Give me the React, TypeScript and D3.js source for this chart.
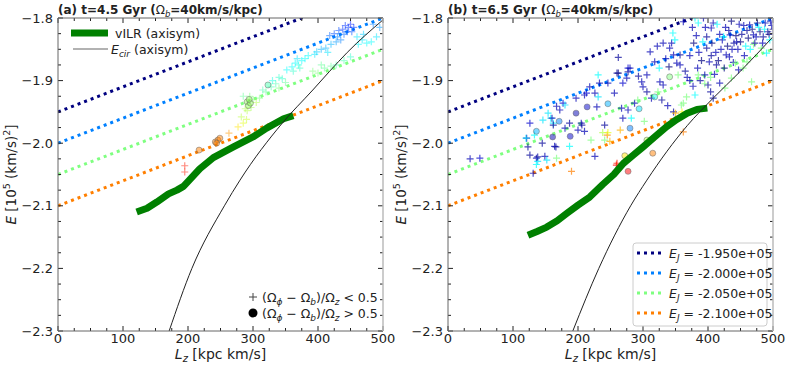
import React from 'react';
import * as d3 from 'd3';

// pattern speed (km/s/kpc); E and E_J in units of 1e5 (km/s)^2
const OMEGA_B = 40;
const LZ_TICKS = [0, 100, 200, 300, 400, 500];
const E_TICKS = [-1.8, -1.9, -2.0, -2.1, -2.2, -2.3];
const EJ_LEVELS = [-1.95, -2.0, -2.05, -2.1];
const EJ_LABELS = ['-1.950e+05', '-2.000e+05', '-2.050e+05', '-2.100e+05'];

// vILR (axisym) tracks [Lz, E]
const VILR_A = [
  [121, -2.11], [137, -2.104], [152, -2.094], [170, -2.081], [183, -2.075], [193, -2.069],
  [202, -2.059], [218, -2.041], [239, -2.023], [270, -2.006], [300, -1.99], [321, -1.976],
  [347, -1.961], [362, -1.956],
];
const VILR_B = [
  [123, -2.147], [137, -2.141], [152, -2.134], [168, -2.124], [183, -2.112], [200, -2.099],
  [218, -2.086], [238, -2.066], [255, -2.05], [270, -2.032], [285, -2.019], [300, -2.006],
  [318, -1.99], [336, -1.974], [352, -1.962], [368, -1.952], [383, -1.946], [399, -1.944],
];

// E_cir (axisym) [Lz, E]
const ECIR_A = [
  [171, -2.3], [206, -2.2], [256, -2.1], [280, -2.059], [345, -1.968], [392, -1.915],
  [418, -1.885], [445, -1.855], [500, -1.803],
];
const ECIR_B = [
  [192, -2.3], [232, -2.2], [281, -2.1], [306, -2.059], [368, -1.972], [408, -1.928],
  [449, -1.886], [500, -1.83],
];

// particles [Lz, E, colour E_J]
const PLUS_A = [
  [195, -2.036, -2.12], [195, -2.046, -2.12], [263, -1.984, -2.095], [277, -1.974, -2.08],
  [285, -1.968, -2.07], [290, -1.962, -2.065], [282, -1.958, -2.062], [288, -1.945, -2.06],
  [291, -1.948, -2.06], [297, -1.943, -2.058], [300, -1.93, -2.052], [305, -1.935, -2.06],
  [295, -1.925, -2.05], [310, -1.928, -2.05], [285, -1.925, -2.045], [315, -1.915, -2.04],
  [320, -1.918, -2.045], [328, -1.91, -2.04], [335, -1.905, -2.04], [340, -1.895, -2.035],
  [345, -1.897, -2.035], [330, -1.9, -2.03], [340, -1.912, -2.05], [350, -1.903, -2.045],
  [352, -1.883, -2.025], [360, -1.878, -2.025], [365, -1.872, -2.025], [370, -1.875, -2.03],
  [375, -1.868, -2.025], [380, -1.865, -2.025], [368, -1.865, -2.02], [385, -1.86, -2.025],
  [372, -1.88, -2.035], [362, -1.885, -2.035], [392, -1.885, -2.05], [400, -1.888, -2.05],
  [410, -1.88, -2.045], [420, -1.877, -2.045], [428, -1.875, -2.04], [405, -1.875, -2.045],
  [440, -1.868, -2.04], [450, -1.862, -2.035], [398, -1.854, -2.015], [405, -1.85, -2.01],
  [412, -1.848, -2.01], [420, -1.842, -2.01], [428, -1.838, -2.005], [435, -1.835, -2.0],
  [395, -1.858, -2.02], [415, -1.855, -2.02], [418, -1.828, -1.995], [425, -1.825, -1.99],
  [432, -1.82, -1.99], [438, -1.818, -1.985], [442, -1.812, -1.985], [447, -1.815, -1.985],
  [450, -1.81, -1.98], [455, -1.815, -1.985], [445, -1.822, -1.99], [452, -1.822, -1.99],
  [440, -1.826, -1.995], [430, -1.83, -2.0], [460, -1.83, -2.02], [468, -1.835, -2.02],
  [475, -1.84, -2.025], [482, -1.838, -2.025], [490, -1.83, -2.02], [470, -1.826, -2.015],
  [485, -1.81, -2.0], [495, -1.815, -2.005], [462, -1.842, -2.025],
];
const CIRC_A = [
  [217, -2.011, -2.1], [242, -1.998, -2.1], [246, -1.995, -2.1], [249, -1.992, -2.1],
  [244, -2.0, -2.1], [291, -1.934, -2.055], [293, -1.94, -2.055], [296, -1.936, -2.055],
  [294, -1.93, -2.055], [323, -1.907, -2.04],
];
const PLUS_B = [
  [34, -2.025, -1.96], [49, -2.024, -1.965], [121, -1.992, -1.96], [123, -2.006, -1.955],
  [126, -1.968, -1.965], [126, -2.019, -1.955], [131, -2.048, -1.96], [120, -1.992, -2.02],
  [133, -1.987, -2.025], [136, -2.024, -1.96], [138, -2.029, -2.02], [136, -2.034, -2.025],
  [138, -2.022, -1.955], [145, -2.0, -1.955], [146, -1.963, -2.02], [149, -2.021, -1.96],
  [152, -2.027, -2.02], [154, -1.952, -2.02], [158, -1.96, -2.025], [160, -1.96, -1.96],
  [162, -1.968, -2.02], [162, -1.971, -1.955], [164, -2.005, -1.96], [166, -2.006, -1.955],
  [167, -2.024, -2.05], [167, -1.941, -1.96], [172, -1.947, -1.96], [177, -1.936, -1.965],
  [180, -1.939, -2.02], [180, -1.976, -1.96], [187, -1.968, -1.955], [187, -2.005, -2.025],
  [190, -2.045, -2.1], [197, -1.928, -1.96], [200, -1.979, -1.96], [205, -1.968, -1.96],
  [206, -1.971, -1.955], [210, -1.981, -1.96], [210, -1.923, -1.96], [213, -1.92, -1.965],
  [218, -1.91, -1.96], [220, -1.995, -2.05], [226, -1.92, -1.96], [226, -2.021, -1.96],
  [229, -1.942, -1.96], [231, -1.891, -2.025], [231, -1.926, -2.02], [233, -1.904, -1.96],
  [238, -1.983, -2.06], [241, -1.971, -1.955], [241, -1.995, -2.05], [245, -1.987, -2.1],
  [246, -1.904, -1.96], [246, -1.983, -2.07], [249, -1.997, -2.09], [256, -1.92, -1.96],
  [259, -2.035, -2.125], [260, -1.888, -1.955], [260, -2.032, -2.12], [262, -1.863, -1.955],
  [262, -1.888, -1.95], [265, -1.979, -2.09], [267, -1.944, -1.96], [269, -1.904, -1.965],
  [269, -1.96, -1.96], [275, -1.896, -1.96], [277, -1.88, -1.965], [277, -1.947, -1.96],
  [277, -1.886, -1.955], [280, -1.88, -1.96], [282, -1.96, -2.025], [287, -1.936, -1.96],
  [292, -1.931, -2.05], [293, -1.893, -1.955], [298, -1.902, -1.96], [300, -1.91, -1.96],
  [302, -1.965, -2.05], [306, -1.891, -1.96], [306, -1.918, -1.955], [311, -1.854, -1.96],
  [313, -1.928, -1.96], [318, -1.87, -1.96], [322, -1.845, -1.96], [323, -1.918, -2.05],
  [325, -1.88, -2.025], [326, -1.902, -1.96], [329, -1.931, -1.955], [331, -1.84, -1.96],
  [331, -1.907, -1.96], [335, -1.865, -1.96], [338, -1.94, -1.96], [340, -1.878, -1.95],
  [341, -1.848, -1.96], [344, -1.84, -1.96], [346, -1.824, -2.025], [347, -1.859, -1.96],
  [347, -1.95, -1.955], [349, -1.835, -2.025], [350, -1.952, -2.09], [352, -1.872, -1.96],
  [354, -1.891, -2.05], [357, -1.859, -1.955], [357, -1.875, -1.96], [359, -1.939, -2.05],
  [360, -1.95, -2.075], [362, -1.806, -1.96], [362, -1.982, -2.1], [362, -1.936, -2.05],
  [365, -1.885, -1.955], [367, -1.926, -2.05], [368, -1.895, -1.96], [372, -1.9, -1.96],
  [372, -1.86, -1.96], [376, -1.815, -1.96], [377, -1.909, -1.96], [378, -1.84, -1.95],
  [380, -1.8, -2.025], [380, -1.923, -2.025], [382, -1.828, -1.96], [384, -1.88, -1.96],
  [385, -1.808, -2.025], [385, -1.891, -2.05], [386, -1.855, -1.96], [388, -1.9, -1.955],
  [390, -1.868, -1.95], [392, -1.838, -2.025], [393, -1.8, -1.96], [395, -1.891, -1.96],
  [395, -1.905, -2.05], [396, -1.815, -1.96], [398, -1.83, -1.955], [398, -1.848, -1.955],
  [400, -1.907, -1.955], [402, -1.87, -1.96], [404, -1.918, -1.955], [404, -1.895, -2.05],
  [405, -1.816, -1.96], [405, -1.86, -1.955], [406, -1.84, -1.95], [408, -1.808, -1.96],
  [408, -1.928, -1.955], [410, -1.89, -1.96], [412, -1.855, -1.96], [413, -1.875, -1.955],
  [414, -1.81, -2.025], [416, -1.868, -1.95], [418, -1.904, -1.96], [418, -1.826, -1.96],
  [420, -1.85, -1.96], [422, -1.835, -1.96], [424, -1.83, -2.025], [425, -1.88, -1.95],
  [426, -1.912, -2.05], [427, -1.815, -1.96], [428, -1.859, -1.96], [430, -1.845, -1.95],
  [432, -1.82, -1.955], [433, -1.862, -1.96], [434, -1.827, -1.96], [436, -1.896, -2.05],
  [436, -1.805, -1.95], [437, -1.85, -1.96], [439, -1.871, -1.96], [440, -1.84, -1.955],
  [442, -1.872, -2.05], [443, -1.828, -1.95], [444, -1.838, -1.96], [446, -1.85, -1.96],
  [447, -1.883, -1.96], [448, -1.81, -1.96], [450, -1.838, -1.95], [452, -1.826, -1.955],
  [454, -1.88, -2.05], [455, -1.812, -1.96], [456, -1.86, -1.96], [458, -1.845, -2.025],
  [460, -1.82, -1.955], [460, -1.87, -2.05], [462, -1.832, -1.95], [464, -1.811, -1.96],
  [465, -1.85, -2.025], [467, -1.902, -2.05], [468, -1.818, -1.95], [470, -1.827, -1.96],
  [470, -1.842, -2.05], [472, -1.84, -1.955], [474, -1.83, -1.96], [476, -1.808, -1.95],
  [478, -1.815, -2.025], [480, -1.822, -1.95], [482, -1.848, -2.05], [484, -1.84, -1.96],
  [485, -1.83, -1.955], [487, -1.818, -2.025], [488, -1.808, -1.96], [490, -1.856, -2.025],
  [492, -1.822, -1.955], [494, -1.826, -1.95], [495, -1.835, -2.025], [496, -1.805, -1.96],
  [498, -1.812, -1.96], [500, -1.818, -1.95],
];
const CIRC_B = [
  [136, -1.981, -2.01], [161, -1.99, -1.96], [171, -1.965, -2.0], [188, -1.989, -1.965],
  [197, -1.952, -1.96], [214, -1.942, -1.965], [246, -1.937, -2.01], [272, -2.02, -2.08],
  [277, -2.045, -2.125], [280, -1.976, -2.0], [294, -1.945, -2.02], [306, -1.995, -2.06],
  [315, -2.016, -2.1], [318, -1.926, -2.03], [341, -1.894, -2.05],
];

const PANELS = [
  { left: 58, tag: '(a) t=4.5 Gyr (', vilr: VILR_A, ecir: ECIR_A, plus: PLUS_A, circ: CIRC_A, alpha: 0.5 },
  { left: 448, tag: '(b) t=6.5 Gyr (', vilr: VILR_B, ecir: ECIR_B, plus: PLUS_B, circ: CIRC_B, alpha: 0.7 },
];

const TOP = 18;
const W = 325;
const H = 313;
const FONT = 'DejaVu Sans';

const clamp = (v) => Math.max(0, Math.min(1, v));
const jet = (t) => {
  const r = clamp(1.5 - Math.abs(4 * t - 3));
  const g = clamp(1.5 - Math.abs(4 * t - 2));
  const b = clamp(1.5 - Math.abs(4 * t - 1));
  return d3.rgb(r * 255, g * 255, b * 255).formatHex();
};
const ejColor = (ej) => jet((-1.95 - ej) / 0.2);
const minus = (v) => d3.format('.1f')(v).replace('-', '\u2212');

function Panel({ p, idx }) {
  const x = d3.scaleLinear().domain([0, 500]).range([0, W]);
  const y = d3.scaleLinear().domain([-2.3, -1.8]).range([H, 0]);
  const line = d3.line().x((d) => x(d[0])).y((d) => y(d[1]));
  const smooth = d3.line().x((d) => x(d[0])).y((d) => y(d[1])).curve(d3.curveMonotoneX);
  const clipId = 'clip' + idx;
  const xMinor = d3.range(0, 501, 25);
  const yMinor = d3.range(0, 21).map((i) => -2.3 + i * 0.025);

  return (
    <g transform={`translate(${p.left},${TOP})`}>
      <defs>
        <clipPath id={clipId}>
          <rect x={0} y={0} width={W} height={H} />
        </clipPath>
      </defs>
      <g clipPath={`url(#${clipId})`}>
        {EJ_LEVELS.map((ej) => (
          <path
            key={ej}
            d={line([[0, ej], [500, ej + (OMEGA_B * 500) / 1e5]])}
            stroke={ejColor(ej)}
            strokeWidth={3}
            strokeDasharray="3 4"
            fill="none"
          />
        ))}
        {p.plus.map((d, i) => (
          <path
            key={'p' + i}
            d={`M${x(d[0]) - 3.5},${y(d[1])}h7M${x(d[0])},${y(d[1]) - 3.5}v7`}
            stroke={ejColor(d[2])}
            strokeOpacity={p.alpha}
            strokeWidth={1.2}
          />
        ))}
        {p.circ.map((d, i) => (
          <circle
            key={'c' + i}
            cx={x(d[0])}
            cy={y(d[1])}
            r={3}
            fill={ejColor(d[2])}
            fillOpacity={0.5}
            stroke="#666"
            strokeOpacity={0.6}
            strokeWidth={0.8}
          />
        ))}
        <path d={line(p.vilr)} stroke="#008000" strokeWidth={7} fill="none" strokeLinejoin="round" />
        <path d={smooth(p.ecir)} stroke="#222" strokeWidth={1} fill="none" />
      </g>

      {/* ticks on all four sides, pointing in */}
      {xMinor.map((v) => {
        const len = v % 100 === 0 ? 5 : 3;
        return (
          <g key={'xt' + v} stroke="#222" strokeWidth={1}>
            <line x1={x(v)} x2={x(v)} y1={H} y2={H - len} />
            <line x1={x(v)} x2={x(v)} y1={0} y2={len} />
          </g>
        );
      })}
      {yMinor.map((v, i) => {
        const len = i % 4 === 0 ? 5 : 3;
        return (
          <g key={'yt' + i} stroke="#222" strokeWidth={1}>
            <line x1={0} x2={len} y1={y(v)} y2={y(v)} />
            <line x1={W} x2={W - len} y1={y(v)} y2={y(v)} />
          </g>
        );
      })}
      <line x1={0} x2={W} y1={0} y2={0} stroke="#666" />
      <line x1={0} x2={W} y1={H} y2={H} stroke="#666" />
      <line x1={0} x2={0} y1={0} y2={H} stroke="#666" />
      <line x1={W} x2={W} y1={0} y2={H} stroke="#bbb" strokeWidth={1.5} />

      <g fontFamily={FONT} fontSize={13} fill="#222">
        {LZ_TICKS.map((v) => (
          <text key={v} x={x(v)} y={H + 12} textAnchor="middle">{v}</text>
        ))}
        {E_TICKS.map((v) => (
          <text key={v} x={-5} y={y(v) + 4.5} textAnchor="end">{minus(v)}</text>
        ))}
      </g>

      <text x={0} y={-4} fontFamily={FONT} fontSize={12} fontWeight="bold" fill="#222">
        {p.tag}
        <tspan fontWeight="normal">Ω</tspan>
        <tspan fontWeight="normal" fontStyle="italic" fontSize={8.5} dy={2.5}>b</tspan>
        <tspan dy={-2.5}>=40km/s/kpc)</tspan>
      </text>

      <text x={W / 2} y={H + 28} textAnchor="middle" fontFamily={FONT} fontSize={14} fill="#222">
        <tspan fontStyle="italic">L</tspan>
        <tspan fontStyle="italic" fontSize={10} dy={3}>z</tspan>
        <tspan dy={-3}> [kpc km/s]</tspan>
      </text>

      <text
        transform={`translate(${-42},${H / 2}) rotate(-90)`}
        textAnchor="middle"
        fontFamily={FONT}
        fontSize={13.5}
        fill="#222"
      >
        <tspan fontStyle="italic">E</tspan>
        <tspan> [10</tspan>
        <tspan fontSize={9.5} dy={-6}>5</tspan>
        <tspan dy={6}> (km/s)</tspan>
        <tspan fontSize={9.5} dy={-6}>2</tspan>
        <tspan dy={6}>]</tspan>
      </text>
    </g>
  );
}

export default function App() {
  const phiLabel = (op) => (
    <>
      <tspan>(Ω</tspan>
      <tspan fontStyle="italic" fontSize={9} dy={3}>ϕ</tspan>
      <tspan dy={-3}> − Ω</tspan>
      <tspan fontStyle="italic" fontSize={9} dy={3}>b</tspan>
      <tspan dy={-3}>)/Ω</tspan>
      <tspan fontStyle="italic" fontSize={9} dy={3}>z</tspan>
      <tspan dy={-3}>{` ${op} 0.5`}</tspan>
    </>
  );

  return (
    <svg
      width={789}
      height={368}
      style={{ position: 'absolute', left: 0, top: 0, background: '#fff' }}
    >
      {PANELS.map((p, i) => (
        <Panel key={i} p={p} idx={i} />
      ))}

      {/* panel (a) legends */}
      <g fontFamily={FONT} fontSize={12.5} fill="#222">
        <line x1={71} x2={108} y1={33} y2={33} stroke="#008000" strokeWidth={7} />
        <text x={115} y={37.5}>vILR (axisym)</text>
        <line x1={73} x2={108} y1={49} y2={49} stroke="#666" strokeWidth={1.2} />
        <text x={111} y={53.5}>
          <tspan fontStyle="italic">E</tspan>
          <tspan fontStyle="italic" fontSize={9} dy={3}>cir</tspan>
          <tspan dy={-3}> (axisym)</tspan>
        </text>

        <path d="M249,297h8M253,293v8" stroke="#444" strokeWidth={1} />
        <text x={262} y={301.5}>{phiLabel('<')}</text>
        <circle cx={253} cy={313} r={4.5} fill="#000" />
        <text x={262} y={317.5}>{phiLabel('>')}</text>
      </g>

      {/* panel (b) legend */}
      <g fontFamily={FONT} fontSize={12.5} fill="#222">
        <rect x={633} y={243} width={134} height={83} rx={3} fill="#fff" stroke="#ccc" />
        {EJ_LEVELS.map((ej, i) => (
          <g key={ej}>
            <line
              x1={637}
              x2={661}
              y1={253 + i * 20}
              y2={253 + i * 20}
              stroke={ejColor(ej)}
              strokeWidth={3}
              strokeDasharray="3 4"
            />
            <text x={669} y={257.5 + i * 20}>
              <tspan fontStyle="italic">E</tspan>
              <tspan fontStyle="italic" fontSize={9} dy={3}>J</tspan>
              <tspan dy={-3}>{` = ${EJ_LABELS[i]}`}</tspan>
            </text>
          </g>
        ))}
      </g>
    </svg>
  );
}
